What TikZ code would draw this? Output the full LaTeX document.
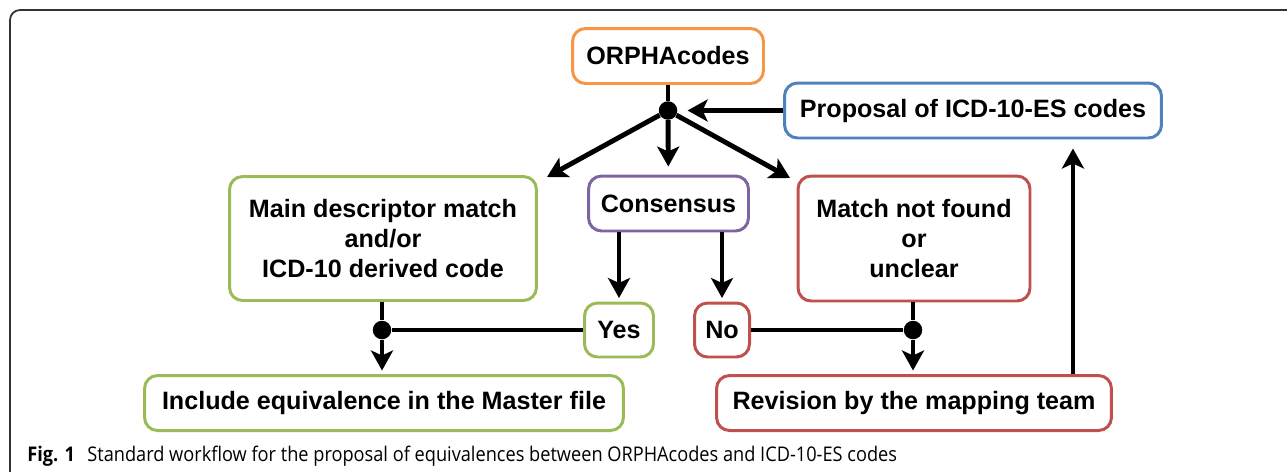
\documentclass[tikz,border=0pt]{standalone}
\usepackage{fontspec}
\setmainfont{Liberation Sans}
\newfontfamily\capfont{Open Sans}
\usetikzlibrary{arrows.meta}
\definecolor{boxorange}{HTML}{F79646}
\definecolor{boxblue}{HTML}{4F81BD}
\definecolor{boxgreen}{HTML}{9BBB59}
\definecolor{boxpurple}{HTML}{8064A2}
\definecolor{boxred}{HTML}{C0504D}

\begin{document}
\begin{tikzpicture}[x=0.02cm, y=-0.02cm,
  box/.style={draw, line width=1.7pt, rounded corners=0.26cm, fill=white, align=center, inner sep=0, font=\fontsize{14.3}{17}\selectfont\bfseries},
  link/.style={line width=2.8pt},
  flow/.style={link, -{Stealth[length=0.4cm,width=0.44cm,inset=0.1cm]}},
  joint/.style={circle, fill=black, minimum size=0.37cm, inner sep=0},
  frame/.style={draw=black!80, line width=1pt, rounded corners=0.2cm},
  captext/.style={anchor=base west, inner sep=0, font=\capfont\fontsize{11.5}{13}\selectfont}]
\useasboundingbox (0,0) rectangle (1287,471);
\draw[frame] (10,480) -- (10,10) -- (1300,10);

% boxes
\node[box, draw=boxorange, minimum width=3.82cm, minimum height=1.1cm] (orpha) at (668,56) {ORPHAcodes};
\node[joint] (topdot) at (668,110.5) {};
\node[box, draw=boxblue, minimum width=7.54cm, minimum height=1.1cm] (proposal) at (973,110.5) {Proposal of ICD-10-ES codes};
\node[box, draw=boxgreen, minimum width=6.14cm, minimum height=2.48cm] (maindesc) at (383,238.5) {Main descriptor match\\and/or\\ICD-10 derived code};
\node[box, draw=boxpurple, minimum width=3.2cm, minimum height=1.1cm] (consensus) at (668.5,203.5) {Consensus};
\node[box, draw=boxred, minimum width=4.64cm, minimum height=2.5cm] (nomatch) at (914,238.5) {Match not found\\or\\unclear};
\node[box, draw=boxgreen, minimum width=1.38cm, minimum height=1.08cm] (yes) at (619,330) {Yes};
\node[box, draw=boxred, minimum width=1.1cm, minimum height=1.08cm] (no) at (722,330) {No};
\node[joint] (leftdot) at (382,330) {};
\node[joint] (rightdot) at (913,330) {};
\node[box, draw=boxgreen, minimum width=9.58cm, minimum height=1.1cm] (include) at (384,403) {Include equivalence in the Master file};
\node[box, draw=boxred, minimum width=7.9cm, minimum height=1.1cm] (revision) at (914,403) {Revision by the mapping team};
\coordinate (tipL) at (547,177);
\coordinate (tipR) at (790,178);

% connectors
\draw[link] (orpha) -- (topdot);
\draw[flow, shorten >=0.2cm] (proposal) -- (topdot);
\draw[flow] (topdot) -- (tipL);
\draw[flow] (topdot) -- (tipR);
\draw[flow, shorten >=0.16cm] (topdot) -- (consensus);
\draw[flow, shorten >=2pt] (yes |- consensus.south) -- (yes);
\draw[flow, shorten >=2pt] (no |- consensus.south) -- (no);
\draw[link] (leftdot |- maindesc.south) -- (leftdot);
\draw[link] (yes) -- (leftdot);
\draw[flow, shorten >=2pt] (leftdot) -- (leftdot |- include.north);
\draw[link] (rightdot |- nomatch.south) -- (rightdot);
\draw[link] (no) -- (rightdot);
\draw[flow, shorten >=2pt] (rightdot) -- (rightdot |- revision.north);
\draw[flow, shorten >=0.18cm] ([xshift=3.18cm]revision.north) -- ([xshift=3.18cm]revision.north |- proposal.south);

% caption
\node[captext] (figlabel) at (27,461) {\scalebox{0.9}[1]{\bfseries Fig. 1}};
\node[captext] (figtext) at (87,461) {\scalebox{0.9}[1]{Standard workflow for the proposal of equivalences between ORPHAcodes and ICD-10-ES codes}};
\end{tikzpicture}
\end{document}
